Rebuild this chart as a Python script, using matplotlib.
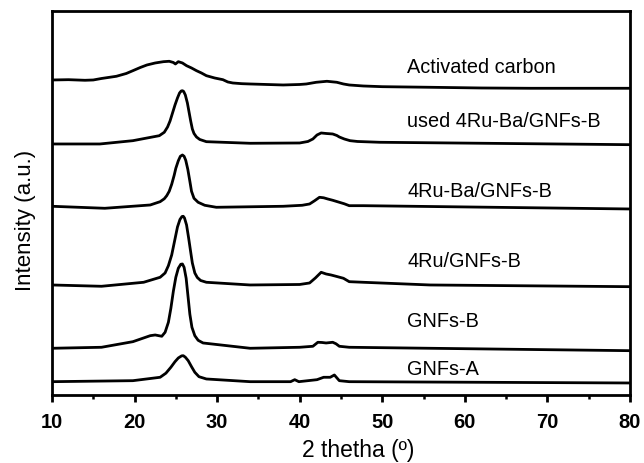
import matplotlib.pyplot as plt
from matplotlib.ticker import MultipleLocator

plt.rcParams["font.family"] = ["Liberation Sans", "DejaVu Sans"]

# XRD patterns (2 theta in degrees, intensity in a.u.
# relative to each trace's own baseline at 10 degrees)
ac_2theta = [10, 12, 14, 15, 16, 17.8, 19, 19.8, 20.7, 21.5, 22.5, 23.5, 24.2,
             24.7, 24.95, 25.3, 25.8, 26.3, 26.9, 27.5, 28.1, 28.7, 29.7, 30.7,
             31.3, 31.9, 33, 34, 36, 38, 40, 40.8, 42, 43.3, 44.5, 45.3, 46,
             47.7, 50, 55.8, 62, 67.9, 80]
ac_int = [0, 0.3, -0.3, 0, 1.5, 3.7, 6.5, 9.3, 12.5, 15, 17, 18.3, 18.7,
          17.5, 16, 18.3, 17, 14.3, 12, 9.3, 7, 4.3, 2, 0.3,
          -2, -3, -3.7, -4, -4.5, -5, -4.5, -4, -2.3, -1.3, -2.3, -4, -5,
          -6, -6.7, -7.3, -8, -8.3, -8.3]

used_2theta = [10, 15.8, 19.8, 23, 23.6, 24.0, 24.3, 24.6, 24.9, 25.2, 25.45,
               25.65, 25.8, 25.95, 26.15, 26.4, 26.6, 26.8, 27.0, 27.2, 27.5,
               27.9, 28.7, 34, 40, 41, 41.6, 42.1, 42.6, 43.2, 44, 44.5, 44.8,
               45.4, 46.1, 47, 49.7, 80]
used_int = [0, 0, 3.3, 8.3, 11.7, 17, 23, 31, 39, 46, 51,
            53, 53.3, 52.5, 49, 41, 32, 23, 15, 10.5, 7,
            4.5, 2.3, 0.7, 1, 2.5, 5, 9, 11, 10.5, 10, 8.5, 7,
            5, 3.3, 2.5, 1.7, -0.7]

ruba_2theta = [10, 16.4, 21.9, 23.1, 23.6, 23.9, 24.2, 24.5, 24.8, 25.0, 25.3,
               25.55, 25.8, 26.0, 26.2, 26.45, 26.7, 26.9, 27.2, 27.7, 28.5,
               29.9, 38, 40.3, 41.2, 41.8, 42.4, 42.9, 43.4, 44, 44.8, 45.4, 46,
               47.7, 80]
ruba_int = [0, -2, 1.3, 4.6, 7.5, 10.6, 15, 22, 31, 38, 45.5,
            50, 51.3, 50, 46, 37, 25, 15, 8, 4, 1,
            -1, 0, 1, 2.3, 5.5, 9, 8.5, 7.3, 6, 4, 2.5, 0.6,
            0.6, -2.7]

ru_2theta = [10, 16, 21.1, 23.1, 23.7, 24.1, 24.5, 24.9, 25.2, 25.5, 25.75,
             25.9, 26.05, 26.3, 26.55, 26.8, 27.0, 27.3, 27.6, 28.0, 28.7, 34,
             40, 41.2, 41.9, 42.6, 43.2, 43.8, 44.4, 45.3, 46, 47.7, 55.8, 80]
ru_int = [0, -1.3, 2.7, 7.7, 12, 19.3, 30, 46, 58, 65.5, 68.5,
          68.7, 67, 60, 47, 33, 22, 12, 7.5, 4.5, 2.7, 0,
          0.5, 2, 7, 12.7, 11, 10, 8.7, 6.7, 3.3, 2.7, 0, -1.7]

gnfb_2theta = [10, 16, 19.8, 21.9, 22.5, 23.3, 23.7, 24.1, 24.4, 24.7, 25.0,
               25.3, 25.6, 25.8, 26.0, 26.25, 26.5, 26.7, 26.95, 27.3, 27.7,
               28.3, 34, 40, 41.6, 42.2, 42.7, 43.2, 44, 44.4, 44.8, 46, 55.8, 80]
gnfb_int = [0, 1, 6.6, 12.6, 13.3, 12, 16, 26, 40, 57, 71,
            80, 84, 84.3, 81, 70, 50, 34, 21, 12.6, 8,
            5.3, 0, 1, 2, 6, 5.8, 5.3, 6, 4.5, 2, 1, 0, -2.4]

gnfa_2theta = [10, 19.8, 23.1, 23.8, 24.4, 24.9, 25.3, 25.7, 25.9, 26.15, 26.5,
               26.9, 27.3, 27.8, 28.7, 34, 38.9, 39.4, 39.9, 42.1, 42.9, 43.7,
               44.2, 44.8, 46, 80]
gnfa_int = [0, 1, 4.4, 8.5, 14.4, 20, 23.7, 25.8, 26, 24.5, 21,
            15, 9.4, 5, 2.7, 0, 0, 2, 0, 2, 4.4, 4.4,
            6.7, 1, 0, -1.3]

sample_names = ["Activated carbon", "used 4Ru-Ba/GNFs-B", "4Ru-Ba/GNFs-B",
                "4Ru/GNFs-B", "GNFs-B", "GNFs-A"]
patterns = [(ac_2theta, ac_int), (used_2theta, used_int), (ruba_2theta, ruba_int),
            (ru_2theta, ru_int), (gnfb_2theta, gnfb_int), (gnfa_2theta, gnfa_int)]

# vertical stacking of the traces and where each name sits
offsets = [315, 251, 188.7, 110, 46.7, 13.3]
label_y = [328, 274, 204, 134, 74, 26]

fig = plt.figure(figsize=(6.44, 4.64), dpi=100)
ax = fig.add_axes([0.0807, 0.1466, 0.8975, 0.8265])

for (tt, inten), off, name, ly in zip(patterns, offsets, sample_names, label_y):
    ax.plot(tt, [v + off for v in inten], color="black", linewidth=2.0,
            solid_joinstyle="round")
    ax.text(53, ly, name, fontsize=14.3, ha="left", va="center")

ax.set_xlim(10, 80)
ax.set_ylim(0, 383.5)
ax.xaxis.set_major_locator(MultipleLocator(10))
ax.xaxis.set_minor_locator(MultipleLocator(5))
ax.set_yticks([])
ax.tick_params(axis="x", which="major", direction="out", length=5, width=2,
               labelsize=14.5, pad=7)
ax.tick_params(axis="x", which="minor", direction="out", length=3, width=1.8)
for lab in ax.get_xticklabels():
    lab.set_fontweight("bold")
for sp in ax.spines.values():
    sp.set_linewidth(2)

ax.set_xlabel("2 thetha (º)", fontsize=16.5)
ax.set_ylabel("Intensity (a.u.)", fontsize=16)
ax.xaxis.set_label_coords(0.529, -0.113)
ax.yaxis.set_label_coords(-0.027, 0.459)

fig.savefig("out.png", dpi=100)
